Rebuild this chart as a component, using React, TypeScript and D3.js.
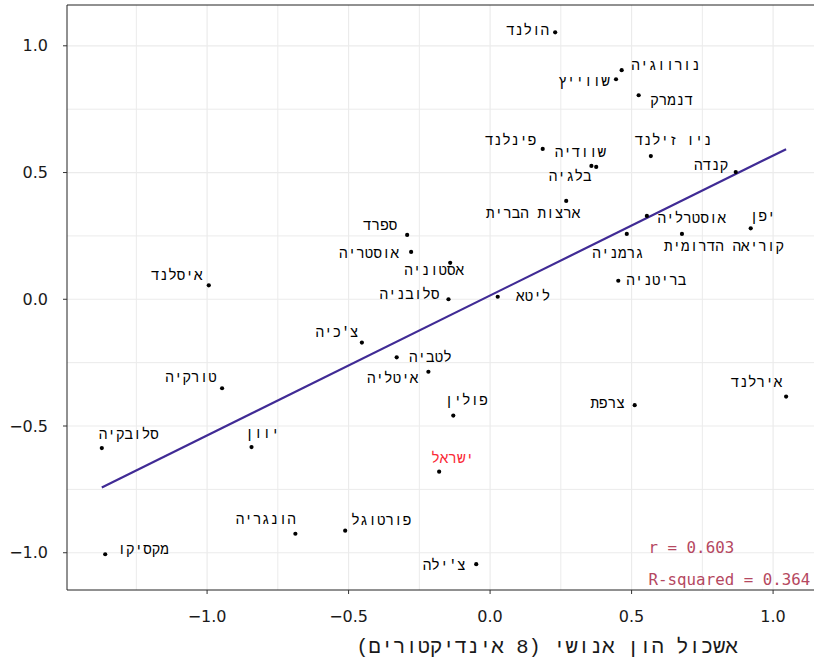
import React from "react";
import * as d3 from "d3";

// Country names (Hebrew), human-capital cluster score (x) and outcome index (y)
const countries: string[] = [
  "הולנד", "נורווגיה", "שווייץ", "דנמרק", "פינלנד", "שוודיה", "בלגיה", "ניו זילנד",
  "קנדה", "ארצות הברית", "אוסטרליה", "יפן", "קוריאה הדרומית", "גרמניה", "בריטניה",
  "ספרד", "אוסטריה", "אסטוניה", "סלובניה", "ליטא", "איסלנד", "צ'כיה", "לטביה",
  "איטליה", "טורקיה", "פולין", "צרפת", "אירלנד", "סלובקיה", "יוון", "ישראל",
  "הונגריה", "פורטוגל", "מקסיקו", "צ'ילה",
];
const humanCapital: number[] = [
  0.23, 0.465, 0.445, 0.525, 0.186, 0.358, 0.375, 0.568,
  0.868, 0.269, 0.554, 0.921, 0.678, 0.483, 0.453,
  -0.293, -0.279, -0.141, -0.147, 0.027, -0.994, -0.453, -0.218,
  -0.33, -0.947, -0.13, 0.511, 1.046, -1.372, -0.843, -0.18,
  -0.688, -0.512, -1.36, -0.049,
];
const outcome: number[] = [
  1.053, 0.904, 0.868, 0.805, 0.593, 0.526, 0.522, 0.565,
  0.502, 0.388, 0.329, 0.28, 0.258, 0.258, 0.073,
  0.254, 0.187, 0.144, 0.0, 0.01, 0.055, -0.171, -0.286,
  -0.229, -0.351, -0.459, -0.418, -0.384, -0.587, -0.583, -0.68,
  -0.925, -0.913, -1.006, -1.045,
];
// Label placement relative to each point (pixels): [dx, dy]
const labelNudge: [number, number][] = [
  [-27.5, -1], [44, -4], [-32, 3], [33, 6], [-32, -7.5], [-11, -13], [-26, 10.5], [22.5, -15],
  [-24.5, -6.5], [-33, 13], [45, 3], [12, -11], [42, 13.5], [-8.7, 20], [38, 0],
  [-27, -8.5], [-42, 2.5], [-16, 8], [-39, -4], [35.5, 0], [-32, -9.5], [-25, -10], [2, -14],
  [-4, 22], [-31, -10], [13, -14.5], [-27, -1], [-29.5, -14], [27, -13.5], [11, -13.5], [13.5, -12.5],
  [-29.6, -13.5], [36, -9.5], [38, -4], [-32, 2],
];
const highlighted = "ישראל";

const xTicks: number[] = [-1.0, -0.5, 0.0, 0.5, 1.0];
const yTicks: number[] = [-1.0, -0.5, 0.0, 0.5, 1.0];
const xMinor: number[] = [-1.25, -0.75, -0.25, 0.25, 0.75, 1.25];
const yMinor: number[] = [-0.75, -0.25, 0.25, 0.75];
const xTitle = "אשכול הון אנושי (8 אינדיקטורים)";
const statLines: string[] = ["r = 0.603", "R-squared = 0.364"];

const W = 814;
const H = 659;
const panel = { left: 67, top: 5, bottom: 590 };

export default function App() {
  const x = d3.scaleLinear().domain([-1.495, 1.25]).range([panel.left, panel.left + 2.745 * 283]);
  const y = d3.scaleLinear().domain([-1.147, 1.161]).range([panel.bottom, panel.top]);
  const panelRight = x(1.25);

  // least-squares fit
  const mx = d3.mean(humanCapital)!;
  const my = d3.mean(outcome)!;
  let sxy = 0;
  let sxx = 0;
  humanCapital.forEach((v, i) => {
    sxy += (v - mx) * (outcome[i] - my);
    sxx += (v - mx) * (v - mx);
  });
  const slope = sxy / sxx;
  const intercept = my - slope * mx;
  const [x0, x1] = d3.extent(humanCapital) as [number, number];
  const fit = d3.line<number>().x((v) => x(v)).y((v) => y(intercept + slope * v));

  const fmt = (v: number) => (v < 0 ? "\u2212" : "") + Math.abs(v).toFixed(1);
  const grid = "#ebebeb";
  const hebMono = "'Liberation Mono', monospace";
  const mono = "'DejaVu Sans Mono', monospace";

  return (
    <svg width={W} height={H} style={{ position: "absolute", left: 0, top: 0, background: "#fff" }}>
      <defs>
        <clipPath id="panelClip">
          <rect x={panel.left} y={panel.top} width={W - panel.left} height={panel.bottom - panel.top} />
        </clipPath>
      </defs>
      <g clipPath="url(#panelClip)">
        {xMinor.map((t) => (
          <line key={"xm" + t} x1={x(t)} x2={x(t)} y1={panel.top} y2={panel.bottom} stroke={grid} strokeWidth={1} />
        ))}
        {yMinor.map((t) => (
          <line key={"ym" + t} x1={panel.left} x2={panelRight} y1={y(t)} y2={y(t)} stroke={grid} strokeWidth={1} />
        ))}
        {xTicks.map((t) => (
          <line key={"xg" + t} x1={x(t)} x2={x(t)} y1={panel.top} y2={panel.bottom} stroke={grid} strokeWidth={1.2} />
        ))}
        {yTicks.map((t) => (
          <line key={"yg" + t} x1={panel.left} x2={panelRight} y1={y(t)} y2={y(t)} stroke={grid} strokeWidth={1.2} />
        ))}
        <path d={fit([x0, x1]) || ""} fill="none" stroke="#402b95" strokeWidth={2.2} />
        {humanCapital.map((v, i) => (
          <circle key={"p" + i} cx={x(v)} cy={y(outcome[i])} r={2.1} fill="#000" />
        ))}
        {countries.map((c, i) => (
          <text
            key={"l" + i}
            x={x(humanCapital[i]) + labelNudge[i][0]}
            y={y(outcome[i]) + labelNudge[i][1]}
            textAnchor="middle"
            dominantBaseline="central"
            direction="rtl"
            fontFamily={hebMono}
            fontSize={14.3}
            fill={c === highlighted ? "#fa2a36" : "#000"}
          >
            {c}
          </text>
        ))}
        {statLines.map((s, i) => (
          <text
            key={"s" + i}
            x={x(0.56)}
            y={y(-1.0) + i * 32}
            fontFamily={mono}
            fontSize={15.8}
            fill="#b5485f"
          >
            {s}
          </text>
        ))}
      </g>
      {/* panel frame */}
      <line x1={panel.left} x2={W} y1={panel.top} y2={panel.top} stroke="#222" strokeWidth={1} />
      <line x1={panel.left} x2={W} y1={panel.bottom} y2={panel.bottom} stroke="#222" strokeWidth={1} />
      <line x1={panel.left} x2={panel.left} y1={panel.top} y2={panel.bottom} stroke="#222" strokeWidth={1} />
      {/* axes */}
      {yTicks.map((t) => (
        <g key={"yt" + t}>
          <line x1={panel.left - 4} x2={panel.left} y1={y(t)} y2={y(t)} stroke="#333" />
          <text x={48} y={y(t)} textAnchor="end" dominantBaseline="central" fontFamily="'DejaVu Sans', sans-serif" fontSize={16} fill="#1a1a1a">
            {fmt(t)}
          </text>
        </g>
      ))}
      {xTicks.map((t) => (
        <g key={"xt" + t}>
          <line x1={x(t)} x2={x(t)} y1={panel.bottom} y2={panel.bottom + 4} stroke="#333" />
          <text x={x(t)} y={616.5} textAnchor="middle" dominantBaseline="central" fontFamily="'DejaVu Sans', sans-serif" fontSize={16} fill="#1a1a1a">
            {fmt(t)}
          </text>
        </g>
      ))}
      <text x={547} y={653} textAnchor="middle" direction="rtl" fontFamily={hebMono} fontSize={20.5} fill="#1a1a1a">
        {xTitle}
      </text>
    </svg>
  );
}
